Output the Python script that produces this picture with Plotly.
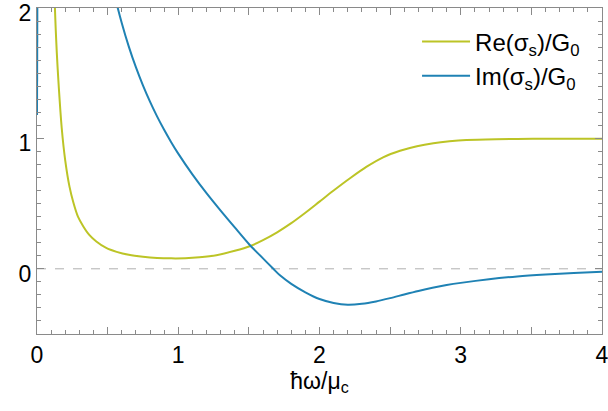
import plotly.graph_objects as go

# Re(sigma_s)/G0
re_x = [0.10, 0.127, 0.14, 0.151, 0.175, 0.20, 0.23, 0.257, 0.29, 0.328, 0.37, 0.42,
        0.49, 0.564, 0.65, 0.75, 0.85, 0.95, 1.05, 1.15, 1.27, 1.40, 1.51, 1.60, 1.70,
        1.80, 1.90, 2.00, 2.10, 2.216, 2.334, 2.45, 2.57, 2.69, 2.806, 2.92, 3.04,
        3.25, 3.51, 4.0]
re_y = [3.3, 2.0, 1.66, 1.45, 1.08, 0.83, 0.63, 0.51, 0.40, 0.325, 0.26, 0.21,
        0.16, 0.13, 0.107, 0.092, 0.083, 0.080, 0.081, 0.088, 0.104, 0.138, 0.175, 0.22, 0.28,
        0.35, 0.43, 0.515, 0.60, 0.694, 0.783, 0.855, 0.905, 0.94, 0.963, 0.978, 0.988,
        0.994, 0.997, 0.998]

# Im(sigma_s)/G0  (None = curve leaves the plotted range)
im_x = [0.0, 0.004, None, 0.50, 0.55, 0.60, 0.65, 0.70, 0.75, 0.80, 0.85, 0.90, 0.95,
        1.00, 1.10, 1.20, 1.30, 1.40, 1.50, 1.60, 1.673, 1.72, 1.80, 1.90, 2.00, 2.10,
        2.20, 2.30, 2.40, 2.50, 2.60, 2.70, 2.80, 2.90, 3.00, 3.20, 3.40, 3.60, 3.80, 4.00]
im_y = [1.18, 2.6, None, 2.34, 2.095, 1.885, 1.704, 1.546, 1.407, 1.282, 1.169, 1.066, 0.971,
        0.883, 0.724, 0.580, 0.446, 0.317, 0.19, 0.08, 0.0, -0.05, -0.115, -0.18, -0.232, -0.262,
        -0.275, -0.268, -0.250, -0.225, -0.197, -0.170, -0.146, -0.125, -0.108, -0.080, -0.059,
        -0.044, -0.032, -0.022]

x_tickvals = [0, 0.5, 1, 1.5, 2, 2.5, 3, 3.5, 4]
x_ticktext = ["0", "", "1", "", "2", "", "3", "", "4"]
y_tickvals = [0, 1, 2]
y_ticktext = ["0", "1", "2"]

yellow = "#bcc426"
blue = "#1f82b4"
axis_gray = "#8a8a8a"
font_family = "Liberation Sans, Arial, sans-serif"

fig = go.Figure()
fig.add_trace(go.Scatter(x=re_x, y=re_y, mode="lines", name="Re(σ<sub>s</sub>)/G<sub>0</sub>",
                         line=dict(color=yellow, width=2, shape="spline", smoothing=0.8)))
fig.add_trace(go.Scatter(x=im_x, y=im_y, mode="lines", name="Im(σ<sub>s</sub>)/G<sub>0</sub>",
                         line=dict(color=blue, width=2, shape="spline", smoothing=0.8),
                         connectgaps=False))

fig.add_hline(y=0, line=dict(color="#b0b0b0", width=1, dash="dash"), layer="below")

fig.update_layout(
    width=608, height=411,
    margin=dict(l=37, r=6, t=8, b=77, autoexpand=False),
    paper_bgcolor="white", plot_bgcolor="white",
    font=dict(family=font_family, color="black"),
    showlegend=True,
    legend=dict(x=0.97, xanchor="right", y=0.965, yanchor="top", itemwidth=48,
                bgcolor="rgba(0,0,0,0)", font=dict(size=24), tracegroupgap=0),
    xaxis=dict(range=[0, 4], tickvals=x_tickvals, ticktext=x_ticktext,
               ticks="inside", ticklen=7, tickcolor=axis_gray, showline=True,
               linecolor=axis_gray, linewidth=1, mirror="ticks", showgrid=False,
               zeroline=False, tickfont=dict(size=23), automargin=False,
               ticklabeloverflow="allow",
               minor=dict(dtick=0.1, ticks="inside", ticklen=4, tickcolor=axis_gray, showgrid=False),
               title=dict(text="ħω/μ<sub>c</sub>", font=dict(size=23), standoff=4)),
    yaxis=dict(range=[-0.5, 2], tickvals=y_tickvals, ticktext=y_ticktext,
               ticks="inside", ticklen=7, tickcolor=axis_gray, showline=True,
               linecolor=axis_gray, linewidth=1, mirror="ticks", showgrid=False,
               zeroline=False, tickfont=dict(size=23), automargin=False,
               ticklabeloverflow="allow", ticklabelshift=5,
               minor=dict(dtick=0.1, ticks="inside", ticklen=4, tickcolor=axis_gray, showgrid=False)),
)

fig.write_html("out.html", config={"displayModeBar": False},
               post_script="document.body.style.margin='0';document.body.style.overflow='hidden';")
